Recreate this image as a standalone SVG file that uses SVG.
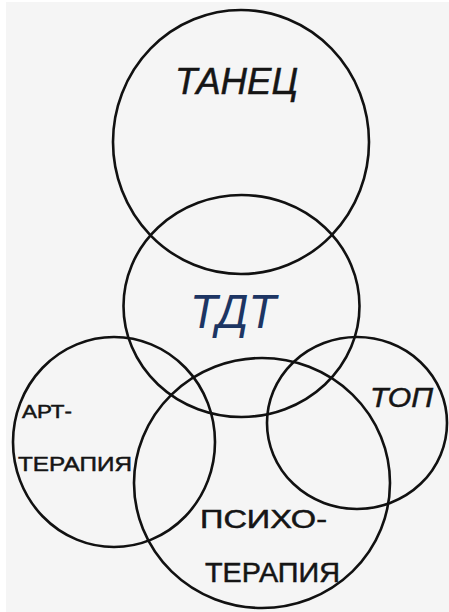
<svg xmlns="http://www.w3.org/2000/svg" width="449" height="612" viewBox="0 0 449 612">
<style>
.c{fill:none;stroke:#111;stroke-width:2.6}
.t{font-family:"Liberation Sans","DejaVu Sans",sans-serif;fill:#151515;stroke:#151515;stroke-width:0.5}
.i{font-style:italic}
</style>
<rect width="449" height="612" fill="#ffffff"/>
<rect x="6" y="2" width="443" height="610" fill="#f5f5f5"/>
<g id="tanec"><ellipse class="c" cx="241" cy="142" rx="128" ry="132"/>
<text class="t i" x="175" y="94" font-size="36" textLength="123" lengthAdjust="spacingAndGlyphs">ТАНЕЦ</text></g>
<g id="tdt"><ellipse class="c" cx="241.5" cy="306" rx="118" ry="111"/>
<text class="t i" x="190" y="328" font-size="48" style="fill:#1d3563;stroke:none" textLength="86" lengthAdjust="spacingAndGlyphs">ТДТ</text></g>
<g id="art"><ellipse class="c" cx="114" cy="442" rx="101" ry="105"/>
<text class="t" x="22" y="418" font-size="18" textLength="50" lengthAdjust="spacingAndGlyphs">АРТ-</text>
<text class="t" x="18" y="471" font-size="21" textLength="114" lengthAdjust="spacingAndGlyphs">ТЕРАПИЯ</text></g>
<g id="top"><ellipse class="c" cx="357" cy="423" rx="90" ry="86"/>
<text class="t i" x="370" y="407" font-size="28" textLength="63" lengthAdjust="spacingAndGlyphs">ТОП</text></g>
<g id="psycho"><ellipse class="c" cx="262" cy="483" rx="128" ry="125"/>
<text class="t" x="200" y="528" font-size="25" textLength="127" lengthAdjust="spacingAndGlyphs">ПСИХО-</text>
<text class="t" x="205" y="582" font-size="27" textLength="135" lengthAdjust="spacingAndGlyphs">ТЕРАПИЯ</text></g>
<g id="connectors"/>
</svg>
